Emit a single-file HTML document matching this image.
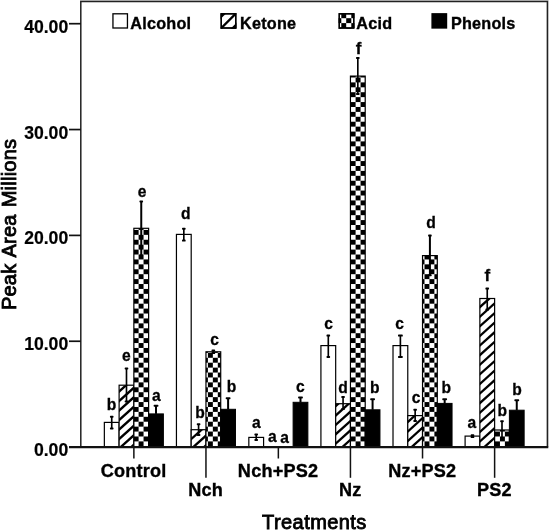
<!DOCTYPE html>
<html><head><meta charset="utf-8"><title>Chart</title>
<style>
html,body{margin:0;padding:0;background:#fff;}
body{width:550px;height:531px;position:relative;overflow:hidden;font-family:"Liberation Sans",sans-serif;}
svg{filter:grayscale(100%);}
svg text{font-family:"Liberation Sans",sans-serif;fill:#000;}
.t18{font-size:18.1px;font-weight:bold;stroke:#000;stroke-width:0.35px;letter-spacing:0.2px;}
.ty{font-size:17.6px;font-weight:bold;stroke:#000;stroke-width:0.2px;}
.t16{font-size:16.2px;font-weight:bold;stroke:#000;stroke-width:0.35px;letter-spacing:0.25px;}
.t17{font-size:17px;font-weight:bold;stroke:#000;stroke-width:0.3px;}
.ttl{font-size:20px;font-weight:normal;stroke:#000;stroke-width:0.85px;letter-spacing:0.25px;word-spacing:1.2px;}
</style></head><body>
<svg width="550" height="531" viewBox="0 0 550 531" style="position:absolute;left:0;top:0">
<defs>
</defs>
<rect x="0" y="0" width="550" height="531" fill="#fff"/>
<rect x="104.35" y="422.40" width="14.76" height="24.70" fill="#fff" stroke="#000" stroke-width="1.2"/>
<clipPath id="c1"><rect x="119.11" y="385.20" width="14.76" height="61.90"/></clipPath>
<rect x="119.11" y="385.20" width="14.76" height="61.90" fill="#fff"/>
<g clip-path="url(#c1)" stroke="#000" stroke-width="2.30">
<line x1="117.11" y1="374.30" x2="135.87" y2="357.42"/>
<line x1="117.11" y1="383.80" x2="135.87" y2="366.92"/>
<line x1="117.11" y1="393.30" x2="135.87" y2="376.42"/>
<line x1="117.11" y1="402.80" x2="135.87" y2="385.92"/>
<line x1="117.11" y1="412.30" x2="135.87" y2="395.42"/>
<line x1="117.11" y1="421.80" x2="135.87" y2="404.92"/>
<line x1="117.11" y1="431.30" x2="135.87" y2="414.42"/>
<line x1="117.11" y1="440.80" x2="135.87" y2="423.92"/>
<line x1="117.11" y1="450.30" x2="135.87" y2="433.42"/>
<line x1="117.11" y1="459.80" x2="135.87" y2="442.92"/>
</g>
<rect x="119.11" y="385.20" width="14.76" height="61.90" fill="none" stroke="#000" stroke-width="1.2"/>
<clipPath id="c2"><rect x="133.87" y="228.30" width="14.76" height="218.80"/></clipPath>
<rect x="133.87" y="228.30" width="14.76" height="218.80" fill="#fff"/>
<g clip-path="url(#c2)" fill="#000">
<rect x="133.65" y="220.09" width="4.95" height="4.92"/>
<rect x="143.55" y="220.09" width="4.95" height="4.92"/>
<rect x="153.45" y="220.09" width="4.95" height="4.92"/>
<rect x="128.70" y="225.01" width="4.95" height="4.92"/>
<rect x="138.60" y="225.01" width="4.95" height="4.92"/>
<rect x="148.50" y="225.01" width="4.95" height="4.92"/>
<rect x="133.65" y="229.93" width="4.95" height="4.92"/>
<rect x="143.55" y="229.93" width="4.95" height="4.92"/>
<rect x="153.45" y="229.93" width="4.95" height="4.92"/>
<rect x="128.70" y="234.84" width="4.95" height="4.92"/>
<rect x="138.60" y="234.84" width="4.95" height="4.92"/>
<rect x="148.50" y="234.84" width="4.95" height="4.92"/>
<rect x="133.65" y="239.76" width="4.95" height="4.92"/>
<rect x="143.55" y="239.76" width="4.95" height="4.92"/>
<rect x="153.45" y="239.76" width="4.95" height="4.92"/>
<rect x="128.70" y="244.68" width="4.95" height="4.92"/>
<rect x="138.60" y="244.68" width="4.95" height="4.92"/>
<rect x="148.50" y="244.68" width="4.95" height="4.92"/>
<rect x="133.65" y="249.60" width="4.95" height="4.92"/>
<rect x="143.55" y="249.60" width="4.95" height="4.92"/>
<rect x="153.45" y="249.60" width="4.95" height="4.92"/>
<rect x="128.70" y="254.52" width="4.95" height="4.92"/>
<rect x="138.60" y="254.52" width="4.95" height="4.92"/>
<rect x="148.50" y="254.52" width="4.95" height="4.92"/>
<rect x="133.65" y="259.43" width="4.95" height="4.92"/>
<rect x="143.55" y="259.43" width="4.95" height="4.92"/>
<rect x="153.45" y="259.43" width="4.95" height="4.92"/>
<rect x="128.70" y="264.35" width="4.95" height="4.92"/>
<rect x="138.60" y="264.35" width="4.95" height="4.92"/>
<rect x="148.50" y="264.35" width="4.95" height="4.92"/>
<rect x="133.65" y="269.27" width="4.95" height="4.92"/>
<rect x="143.55" y="269.27" width="4.95" height="4.92"/>
<rect x="153.45" y="269.27" width="4.95" height="4.92"/>
<rect x="128.70" y="274.19" width="4.95" height="4.92"/>
<rect x="138.60" y="274.19" width="4.95" height="4.92"/>
<rect x="148.50" y="274.19" width="4.95" height="4.92"/>
<rect x="133.65" y="279.11" width="4.95" height="4.92"/>
<rect x="143.55" y="279.11" width="4.95" height="4.92"/>
<rect x="153.45" y="279.11" width="4.95" height="4.92"/>
<rect x="128.70" y="284.02" width="4.95" height="4.92"/>
<rect x="138.60" y="284.02" width="4.95" height="4.92"/>
<rect x="148.50" y="284.02" width="4.95" height="4.92"/>
<rect x="133.65" y="288.94" width="4.95" height="4.92"/>
<rect x="143.55" y="288.94" width="4.95" height="4.92"/>
<rect x="153.45" y="288.94" width="4.95" height="4.92"/>
<rect x="128.70" y="293.86" width="4.95" height="4.92"/>
<rect x="138.60" y="293.86" width="4.95" height="4.92"/>
<rect x="148.50" y="293.86" width="4.95" height="4.92"/>
<rect x="133.65" y="298.78" width="4.95" height="4.92"/>
<rect x="143.55" y="298.78" width="4.95" height="4.92"/>
<rect x="153.45" y="298.78" width="4.95" height="4.92"/>
<rect x="128.70" y="303.70" width="4.95" height="4.92"/>
<rect x="138.60" y="303.70" width="4.95" height="4.92"/>
<rect x="148.50" y="303.70" width="4.95" height="4.92"/>
<rect x="133.65" y="308.61" width="4.95" height="4.92"/>
<rect x="143.55" y="308.61" width="4.95" height="4.92"/>
<rect x="153.45" y="308.61" width="4.95" height="4.92"/>
<rect x="128.70" y="313.53" width="4.95" height="4.92"/>
<rect x="138.60" y="313.53" width="4.95" height="4.92"/>
<rect x="148.50" y="313.53" width="4.95" height="4.92"/>
<rect x="133.65" y="318.45" width="4.95" height="4.92"/>
<rect x="143.55" y="318.45" width="4.95" height="4.92"/>
<rect x="153.45" y="318.45" width="4.95" height="4.92"/>
<rect x="128.70" y="323.37" width="4.95" height="4.92"/>
<rect x="138.60" y="323.37" width="4.95" height="4.92"/>
<rect x="148.50" y="323.37" width="4.95" height="4.92"/>
<rect x="133.65" y="328.29" width="4.95" height="4.92"/>
<rect x="143.55" y="328.29" width="4.95" height="4.92"/>
<rect x="153.45" y="328.29" width="4.95" height="4.92"/>
<rect x="128.70" y="333.20" width="4.95" height="4.92"/>
<rect x="138.60" y="333.20" width="4.95" height="4.92"/>
<rect x="148.50" y="333.20" width="4.95" height="4.92"/>
<rect x="133.65" y="338.12" width="4.95" height="4.92"/>
<rect x="143.55" y="338.12" width="4.95" height="4.92"/>
<rect x="153.45" y="338.12" width="4.95" height="4.92"/>
<rect x="128.70" y="343.04" width="4.95" height="4.92"/>
<rect x="138.60" y="343.04" width="4.95" height="4.92"/>
<rect x="148.50" y="343.04" width="4.95" height="4.92"/>
<rect x="133.65" y="347.96" width="4.95" height="4.92"/>
<rect x="143.55" y="347.96" width="4.95" height="4.92"/>
<rect x="153.45" y="347.96" width="4.95" height="4.92"/>
<rect x="128.70" y="352.88" width="4.95" height="4.92"/>
<rect x="138.60" y="352.88" width="4.95" height="4.92"/>
<rect x="148.50" y="352.88" width="4.95" height="4.92"/>
<rect x="133.65" y="357.79" width="4.95" height="4.92"/>
<rect x="143.55" y="357.79" width="4.95" height="4.92"/>
<rect x="153.45" y="357.79" width="4.95" height="4.92"/>
<rect x="128.70" y="362.71" width="4.95" height="4.92"/>
<rect x="138.60" y="362.71" width="4.95" height="4.92"/>
<rect x="148.50" y="362.71" width="4.95" height="4.92"/>
<rect x="133.65" y="367.63" width="4.95" height="4.92"/>
<rect x="143.55" y="367.63" width="4.95" height="4.92"/>
<rect x="153.45" y="367.63" width="4.95" height="4.92"/>
<rect x="128.70" y="372.55" width="4.95" height="4.92"/>
<rect x="138.60" y="372.55" width="4.95" height="4.92"/>
<rect x="148.50" y="372.55" width="4.95" height="4.92"/>
<rect x="133.65" y="377.47" width="4.95" height="4.92"/>
<rect x="143.55" y="377.47" width="4.95" height="4.92"/>
<rect x="153.45" y="377.47" width="4.95" height="4.92"/>
<rect x="128.70" y="382.38" width="4.95" height="4.92"/>
<rect x="138.60" y="382.38" width="4.95" height="4.92"/>
<rect x="148.50" y="382.38" width="4.95" height="4.92"/>
<rect x="133.65" y="387.30" width="4.95" height="4.92"/>
<rect x="143.55" y="387.30" width="4.95" height="4.92"/>
<rect x="153.45" y="387.30" width="4.95" height="4.92"/>
<rect x="128.70" y="392.22" width="4.95" height="4.92"/>
<rect x="138.60" y="392.22" width="4.95" height="4.92"/>
<rect x="148.50" y="392.22" width="4.95" height="4.92"/>
<rect x="133.65" y="397.14" width="4.95" height="4.92"/>
<rect x="143.55" y="397.14" width="4.95" height="4.92"/>
<rect x="153.45" y="397.14" width="4.95" height="4.92"/>
<rect x="128.70" y="402.06" width="4.95" height="4.92"/>
<rect x="138.60" y="402.06" width="4.95" height="4.92"/>
<rect x="148.50" y="402.06" width="4.95" height="4.92"/>
<rect x="133.65" y="406.97" width="4.95" height="4.92"/>
<rect x="143.55" y="406.97" width="4.95" height="4.92"/>
<rect x="153.45" y="406.97" width="4.95" height="4.92"/>
<rect x="128.70" y="411.89" width="4.95" height="4.92"/>
<rect x="138.60" y="411.89" width="4.95" height="4.92"/>
<rect x="148.50" y="411.89" width="4.95" height="4.92"/>
<rect x="133.65" y="416.81" width="4.95" height="4.92"/>
<rect x="143.55" y="416.81" width="4.95" height="4.92"/>
<rect x="153.45" y="416.81" width="4.95" height="4.92"/>
<rect x="128.70" y="421.73" width="4.95" height="4.92"/>
<rect x="138.60" y="421.73" width="4.95" height="4.92"/>
<rect x="148.50" y="421.73" width="4.95" height="4.92"/>
<rect x="133.65" y="426.65" width="4.95" height="4.92"/>
<rect x="143.55" y="426.65" width="4.95" height="4.92"/>
<rect x="153.45" y="426.65" width="4.95" height="4.92"/>
<rect x="128.70" y="431.56" width="4.95" height="4.92"/>
<rect x="138.60" y="431.56" width="4.95" height="4.92"/>
<rect x="148.50" y="431.56" width="4.95" height="4.92"/>
<rect x="133.65" y="436.48" width="4.95" height="4.92"/>
<rect x="143.55" y="436.48" width="4.95" height="4.92"/>
<rect x="153.45" y="436.48" width="4.95" height="4.92"/>
<rect x="128.70" y="441.40" width="4.95" height="4.92"/>
<rect x="138.60" y="441.40" width="4.95" height="4.92"/>
<rect x="148.50" y="441.40" width="4.95" height="4.92"/>
<rect x="133.65" y="446.32" width="4.95" height="4.92"/>
<rect x="143.55" y="446.32" width="4.95" height="4.92"/>
<rect x="153.45" y="446.32" width="4.95" height="4.92"/>
<rect x="128.70" y="451.24" width="4.95" height="4.92"/>
<rect x="138.60" y="451.24" width="4.95" height="4.92"/>
<rect x="148.50" y="451.24" width="4.95" height="4.92"/>
</g>
<rect x="133.87" y="228.30" width="14.76" height="218.80" fill="none" stroke="#000" stroke-width="1.2"/>
<rect x="148.63" y="413.90" width="14.76" height="33.20" fill="#000" stroke="#000" stroke-width="1"/>
<rect x="176.44" y="234.40" width="14.76" height="212.70" fill="#fff" stroke="#000" stroke-width="1.2"/>
<clipPath id="c3"><rect x="191.20" y="429.70" width="14.76" height="17.40"/></clipPath>
<rect x="191.20" y="429.70" width="14.76" height="17.40" fill="#fff"/>
<g clip-path="url(#c3)" stroke="#000" stroke-width="2.30">
<line x1="189.20" y1="421.30" x2="207.96" y2="404.42"/>
<line x1="189.20" y1="431.10" x2="207.96" y2="414.22"/>
<line x1="189.20" y1="440.90" x2="207.96" y2="424.02"/>
<line x1="189.20" y1="450.70" x2="207.96" y2="433.82"/>
<line x1="189.20" y1="460.50" x2="207.96" y2="443.62"/>
</g>
<rect x="191.20" y="429.70" width="14.76" height="17.40" fill="none" stroke="#000" stroke-width="1.2"/>
<clipPath id="c4"><rect x="205.96" y="351.80" width="14.76" height="95.30"/></clipPath>
<rect x="205.96" y="351.80" width="14.76" height="95.30" fill="#fff"/>
<g clip-path="url(#c4)" fill="#000">
<rect x="198.00" y="343.04" width="4.95" height="4.92"/>
<rect x="207.90" y="343.04" width="4.95" height="4.92"/>
<rect x="217.80" y="343.04" width="4.95" height="4.92"/>
<rect x="202.95" y="347.96" width="4.95" height="4.92"/>
<rect x="212.85" y="347.96" width="4.95" height="4.92"/>
<rect x="222.75" y="347.96" width="4.95" height="4.92"/>
<rect x="198.00" y="352.88" width="4.95" height="4.92"/>
<rect x="207.90" y="352.88" width="4.95" height="4.92"/>
<rect x="217.80" y="352.88" width="4.95" height="4.92"/>
<rect x="202.95" y="357.79" width="4.95" height="4.92"/>
<rect x="212.85" y="357.79" width="4.95" height="4.92"/>
<rect x="222.75" y="357.79" width="4.95" height="4.92"/>
<rect x="198.00" y="362.71" width="4.95" height="4.92"/>
<rect x="207.90" y="362.71" width="4.95" height="4.92"/>
<rect x="217.80" y="362.71" width="4.95" height="4.92"/>
<rect x="202.95" y="367.63" width="4.95" height="4.92"/>
<rect x="212.85" y="367.63" width="4.95" height="4.92"/>
<rect x="222.75" y="367.63" width="4.95" height="4.92"/>
<rect x="198.00" y="372.55" width="4.95" height="4.92"/>
<rect x="207.90" y="372.55" width="4.95" height="4.92"/>
<rect x="217.80" y="372.55" width="4.95" height="4.92"/>
<rect x="202.95" y="377.47" width="4.95" height="4.92"/>
<rect x="212.85" y="377.47" width="4.95" height="4.92"/>
<rect x="222.75" y="377.47" width="4.95" height="4.92"/>
<rect x="198.00" y="382.38" width="4.95" height="4.92"/>
<rect x="207.90" y="382.38" width="4.95" height="4.92"/>
<rect x="217.80" y="382.38" width="4.95" height="4.92"/>
<rect x="202.95" y="387.30" width="4.95" height="4.92"/>
<rect x="212.85" y="387.30" width="4.95" height="4.92"/>
<rect x="222.75" y="387.30" width="4.95" height="4.92"/>
<rect x="198.00" y="392.22" width="4.95" height="4.92"/>
<rect x="207.90" y="392.22" width="4.95" height="4.92"/>
<rect x="217.80" y="392.22" width="4.95" height="4.92"/>
<rect x="202.95" y="397.14" width="4.95" height="4.92"/>
<rect x="212.85" y="397.14" width="4.95" height="4.92"/>
<rect x="222.75" y="397.14" width="4.95" height="4.92"/>
<rect x="198.00" y="402.06" width="4.95" height="4.92"/>
<rect x="207.90" y="402.06" width="4.95" height="4.92"/>
<rect x="217.80" y="402.06" width="4.95" height="4.92"/>
<rect x="202.95" y="406.97" width="4.95" height="4.92"/>
<rect x="212.85" y="406.97" width="4.95" height="4.92"/>
<rect x="222.75" y="406.97" width="4.95" height="4.92"/>
<rect x="198.00" y="411.89" width="4.95" height="4.92"/>
<rect x="207.90" y="411.89" width="4.95" height="4.92"/>
<rect x="217.80" y="411.89" width="4.95" height="4.92"/>
<rect x="202.95" y="416.81" width="4.95" height="4.92"/>
<rect x="212.85" y="416.81" width="4.95" height="4.92"/>
<rect x="222.75" y="416.81" width="4.95" height="4.92"/>
<rect x="198.00" y="421.73" width="4.95" height="4.92"/>
<rect x="207.90" y="421.73" width="4.95" height="4.92"/>
<rect x="217.80" y="421.73" width="4.95" height="4.92"/>
<rect x="202.95" y="426.65" width="4.95" height="4.92"/>
<rect x="212.85" y="426.65" width="4.95" height="4.92"/>
<rect x="222.75" y="426.65" width="4.95" height="4.92"/>
<rect x="198.00" y="431.56" width="4.95" height="4.92"/>
<rect x="207.90" y="431.56" width="4.95" height="4.92"/>
<rect x="217.80" y="431.56" width="4.95" height="4.92"/>
<rect x="202.95" y="436.48" width="4.95" height="4.92"/>
<rect x="212.85" y="436.48" width="4.95" height="4.92"/>
<rect x="222.75" y="436.48" width="4.95" height="4.92"/>
<rect x="198.00" y="441.40" width="4.95" height="4.92"/>
<rect x="207.90" y="441.40" width="4.95" height="4.92"/>
<rect x="217.80" y="441.40" width="4.95" height="4.92"/>
<rect x="202.95" y="446.32" width="4.95" height="4.92"/>
<rect x="212.85" y="446.32" width="4.95" height="4.92"/>
<rect x="222.75" y="446.32" width="4.95" height="4.92"/>
<rect x="198.00" y="451.24" width="4.95" height="4.92"/>
<rect x="207.90" y="451.24" width="4.95" height="4.92"/>
<rect x="217.80" y="451.24" width="4.95" height="4.92"/>
</g>
<rect x="205.96" y="351.80" width="14.76" height="95.30" fill="none" stroke="#000" stroke-width="1.2"/>
<rect x="220.72" y="409.30" width="14.76" height="37.80" fill="#000" stroke="#000" stroke-width="1"/>
<rect x="248.83" y="437.40" width="14.76" height="9.70" fill="#fff" stroke="#000" stroke-width="1.2"/>
<rect x="293.11" y="402.30" width="14.76" height="44.80" fill="#000" stroke="#000" stroke-width="1"/>
<rect x="320.92" y="345.60" width="14.76" height="101.50" fill="#fff" stroke="#000" stroke-width="1.2"/>
<clipPath id="c5"><rect x="335.68" y="403.70" width="14.76" height="43.40"/></clipPath>
<rect x="335.68" y="403.70" width="14.76" height="43.40" fill="#fff"/>
<g clip-path="url(#c5)" stroke="#000" stroke-width="2.30">
<line x1="333.68" y1="398.50" x2="352.44" y2="381.62"/>
<line x1="333.68" y1="407.90" x2="352.44" y2="391.02"/>
<line x1="333.68" y1="417.30" x2="352.44" y2="400.42"/>
<line x1="333.68" y1="426.70" x2="352.44" y2="409.82"/>
<line x1="333.68" y1="436.10" x2="352.44" y2="419.22"/>
<line x1="333.68" y1="445.50" x2="352.44" y2="428.62"/>
<line x1="333.68" y1="454.90" x2="352.44" y2="438.02"/>
<line x1="333.68" y1="464.30" x2="352.44" y2="447.42"/>
</g>
<rect x="335.68" y="403.70" width="14.76" height="43.40" fill="none" stroke="#000" stroke-width="1.2"/>
<clipPath id="c6"><rect x="350.44" y="76.10" width="14.76" height="371.00"/></clipPath>
<rect x="350.44" y="76.10" width="14.76" height="371.00" fill="#fff"/>
<g clip-path="url(#c6)" fill="#000">
<rect x="345.70" y="67.63" width="4.95" height="4.92"/>
<rect x="355.60" y="67.63" width="4.95" height="4.92"/>
<rect x="365.50" y="67.63" width="4.95" height="4.92"/>
<rect x="340.75" y="72.55" width="4.95" height="4.92"/>
<rect x="350.65" y="72.55" width="4.95" height="4.92"/>
<rect x="360.55" y="72.55" width="4.95" height="4.92"/>
<rect x="345.70" y="77.47" width="4.95" height="4.92"/>
<rect x="355.60" y="77.47" width="4.95" height="4.92"/>
<rect x="365.50" y="77.47" width="4.95" height="4.92"/>
<rect x="340.75" y="82.39" width="4.95" height="4.92"/>
<rect x="350.65" y="82.39" width="4.95" height="4.92"/>
<rect x="360.55" y="82.39" width="4.95" height="4.92"/>
<rect x="345.70" y="87.30" width="4.95" height="4.92"/>
<rect x="355.60" y="87.30" width="4.95" height="4.92"/>
<rect x="365.50" y="87.30" width="4.95" height="4.92"/>
<rect x="340.75" y="92.22" width="4.95" height="4.92"/>
<rect x="350.65" y="92.22" width="4.95" height="4.92"/>
<rect x="360.55" y="92.22" width="4.95" height="4.92"/>
<rect x="345.70" y="97.14" width="4.95" height="4.92"/>
<rect x="355.60" y="97.14" width="4.95" height="4.92"/>
<rect x="365.50" y="97.14" width="4.95" height="4.92"/>
<rect x="340.75" y="102.06" width="4.95" height="4.92"/>
<rect x="350.65" y="102.06" width="4.95" height="4.92"/>
<rect x="360.55" y="102.06" width="4.95" height="4.92"/>
<rect x="345.70" y="106.98" width="4.95" height="4.92"/>
<rect x="355.60" y="106.98" width="4.95" height="4.92"/>
<rect x="365.50" y="106.98" width="4.95" height="4.92"/>
<rect x="340.75" y="111.89" width="4.95" height="4.92"/>
<rect x="350.65" y="111.89" width="4.95" height="4.92"/>
<rect x="360.55" y="111.89" width="4.95" height="4.92"/>
<rect x="345.70" y="116.81" width="4.95" height="4.92"/>
<rect x="355.60" y="116.81" width="4.95" height="4.92"/>
<rect x="365.50" y="116.81" width="4.95" height="4.92"/>
<rect x="340.75" y="121.73" width="4.95" height="4.92"/>
<rect x="350.65" y="121.73" width="4.95" height="4.92"/>
<rect x="360.55" y="121.73" width="4.95" height="4.92"/>
<rect x="345.70" y="126.65" width="4.95" height="4.92"/>
<rect x="355.60" y="126.65" width="4.95" height="4.92"/>
<rect x="365.50" y="126.65" width="4.95" height="4.92"/>
<rect x="340.75" y="131.57" width="4.95" height="4.92"/>
<rect x="350.65" y="131.57" width="4.95" height="4.92"/>
<rect x="360.55" y="131.57" width="4.95" height="4.92"/>
<rect x="345.70" y="136.48" width="4.95" height="4.92"/>
<rect x="355.60" y="136.48" width="4.95" height="4.92"/>
<rect x="365.50" y="136.48" width="4.95" height="4.92"/>
<rect x="340.75" y="141.40" width="4.95" height="4.92"/>
<rect x="350.65" y="141.40" width="4.95" height="4.92"/>
<rect x="360.55" y="141.40" width="4.95" height="4.92"/>
<rect x="345.70" y="146.32" width="4.95" height="4.92"/>
<rect x="355.60" y="146.32" width="4.95" height="4.92"/>
<rect x="365.50" y="146.32" width="4.95" height="4.92"/>
<rect x="340.75" y="151.24" width="4.95" height="4.92"/>
<rect x="350.65" y="151.24" width="4.95" height="4.92"/>
<rect x="360.55" y="151.24" width="4.95" height="4.92"/>
<rect x="345.70" y="156.16" width="4.95" height="4.92"/>
<rect x="355.60" y="156.16" width="4.95" height="4.92"/>
<rect x="365.50" y="156.16" width="4.95" height="4.92"/>
<rect x="340.75" y="161.07" width="4.95" height="4.92"/>
<rect x="350.65" y="161.07" width="4.95" height="4.92"/>
<rect x="360.55" y="161.07" width="4.95" height="4.92"/>
<rect x="345.70" y="165.99" width="4.95" height="4.92"/>
<rect x="355.60" y="165.99" width="4.95" height="4.92"/>
<rect x="365.50" y="165.99" width="4.95" height="4.92"/>
<rect x="340.75" y="170.91" width="4.95" height="4.92"/>
<rect x="350.65" y="170.91" width="4.95" height="4.92"/>
<rect x="360.55" y="170.91" width="4.95" height="4.92"/>
<rect x="345.70" y="175.83" width="4.95" height="4.92"/>
<rect x="355.60" y="175.83" width="4.95" height="4.92"/>
<rect x="365.50" y="175.83" width="4.95" height="4.92"/>
<rect x="340.75" y="180.75" width="4.95" height="4.92"/>
<rect x="350.65" y="180.75" width="4.95" height="4.92"/>
<rect x="360.55" y="180.75" width="4.95" height="4.92"/>
<rect x="345.70" y="185.66" width="4.95" height="4.92"/>
<rect x="355.60" y="185.66" width="4.95" height="4.92"/>
<rect x="365.50" y="185.66" width="4.95" height="4.92"/>
<rect x="340.75" y="190.58" width="4.95" height="4.92"/>
<rect x="350.65" y="190.58" width="4.95" height="4.92"/>
<rect x="360.55" y="190.58" width="4.95" height="4.92"/>
<rect x="345.70" y="195.50" width="4.95" height="4.92"/>
<rect x="355.60" y="195.50" width="4.95" height="4.92"/>
<rect x="365.50" y="195.50" width="4.95" height="4.92"/>
<rect x="340.75" y="200.42" width="4.95" height="4.92"/>
<rect x="350.65" y="200.42" width="4.95" height="4.92"/>
<rect x="360.55" y="200.42" width="4.95" height="4.92"/>
<rect x="345.70" y="205.34" width="4.95" height="4.92"/>
<rect x="355.60" y="205.34" width="4.95" height="4.92"/>
<rect x="365.50" y="205.34" width="4.95" height="4.92"/>
<rect x="340.75" y="210.25" width="4.95" height="4.92"/>
<rect x="350.65" y="210.25" width="4.95" height="4.92"/>
<rect x="360.55" y="210.25" width="4.95" height="4.92"/>
<rect x="345.70" y="215.17" width="4.95" height="4.92"/>
<rect x="355.60" y="215.17" width="4.95" height="4.92"/>
<rect x="365.50" y="215.17" width="4.95" height="4.92"/>
<rect x="340.75" y="220.09" width="4.95" height="4.92"/>
<rect x="350.65" y="220.09" width="4.95" height="4.92"/>
<rect x="360.55" y="220.09" width="4.95" height="4.92"/>
<rect x="345.70" y="225.01" width="4.95" height="4.92"/>
<rect x="355.60" y="225.01" width="4.95" height="4.92"/>
<rect x="365.50" y="225.01" width="4.95" height="4.92"/>
<rect x="340.75" y="229.93" width="4.95" height="4.92"/>
<rect x="350.65" y="229.93" width="4.95" height="4.92"/>
<rect x="360.55" y="229.93" width="4.95" height="4.92"/>
<rect x="345.70" y="234.84" width="4.95" height="4.92"/>
<rect x="355.60" y="234.84" width="4.95" height="4.92"/>
<rect x="365.50" y="234.84" width="4.95" height="4.92"/>
<rect x="340.75" y="239.76" width="4.95" height="4.92"/>
<rect x="350.65" y="239.76" width="4.95" height="4.92"/>
<rect x="360.55" y="239.76" width="4.95" height="4.92"/>
<rect x="345.70" y="244.68" width="4.95" height="4.92"/>
<rect x="355.60" y="244.68" width="4.95" height="4.92"/>
<rect x="365.50" y="244.68" width="4.95" height="4.92"/>
<rect x="340.75" y="249.60" width="4.95" height="4.92"/>
<rect x="350.65" y="249.60" width="4.95" height="4.92"/>
<rect x="360.55" y="249.60" width="4.95" height="4.92"/>
<rect x="345.70" y="254.52" width="4.95" height="4.92"/>
<rect x="355.60" y="254.52" width="4.95" height="4.92"/>
<rect x="365.50" y="254.52" width="4.95" height="4.92"/>
<rect x="340.75" y="259.43" width="4.95" height="4.92"/>
<rect x="350.65" y="259.43" width="4.95" height="4.92"/>
<rect x="360.55" y="259.43" width="4.95" height="4.92"/>
<rect x="345.70" y="264.35" width="4.95" height="4.92"/>
<rect x="355.60" y="264.35" width="4.95" height="4.92"/>
<rect x="365.50" y="264.35" width="4.95" height="4.92"/>
<rect x="340.75" y="269.27" width="4.95" height="4.92"/>
<rect x="350.65" y="269.27" width="4.95" height="4.92"/>
<rect x="360.55" y="269.27" width="4.95" height="4.92"/>
<rect x="345.70" y="274.19" width="4.95" height="4.92"/>
<rect x="355.60" y="274.19" width="4.95" height="4.92"/>
<rect x="365.50" y="274.19" width="4.95" height="4.92"/>
<rect x="340.75" y="279.11" width="4.95" height="4.92"/>
<rect x="350.65" y="279.11" width="4.95" height="4.92"/>
<rect x="360.55" y="279.11" width="4.95" height="4.92"/>
<rect x="345.70" y="284.02" width="4.95" height="4.92"/>
<rect x="355.60" y="284.02" width="4.95" height="4.92"/>
<rect x="365.50" y="284.02" width="4.95" height="4.92"/>
<rect x="340.75" y="288.94" width="4.95" height="4.92"/>
<rect x="350.65" y="288.94" width="4.95" height="4.92"/>
<rect x="360.55" y="288.94" width="4.95" height="4.92"/>
<rect x="345.70" y="293.86" width="4.95" height="4.92"/>
<rect x="355.60" y="293.86" width="4.95" height="4.92"/>
<rect x="365.50" y="293.86" width="4.95" height="4.92"/>
<rect x="340.75" y="298.78" width="4.95" height="4.92"/>
<rect x="350.65" y="298.78" width="4.95" height="4.92"/>
<rect x="360.55" y="298.78" width="4.95" height="4.92"/>
<rect x="345.70" y="303.70" width="4.95" height="4.92"/>
<rect x="355.60" y="303.70" width="4.95" height="4.92"/>
<rect x="365.50" y="303.70" width="4.95" height="4.92"/>
<rect x="340.75" y="308.61" width="4.95" height="4.92"/>
<rect x="350.65" y="308.61" width="4.95" height="4.92"/>
<rect x="360.55" y="308.61" width="4.95" height="4.92"/>
<rect x="345.70" y="313.53" width="4.95" height="4.92"/>
<rect x="355.60" y="313.53" width="4.95" height="4.92"/>
<rect x="365.50" y="313.53" width="4.95" height="4.92"/>
<rect x="340.75" y="318.45" width="4.95" height="4.92"/>
<rect x="350.65" y="318.45" width="4.95" height="4.92"/>
<rect x="360.55" y="318.45" width="4.95" height="4.92"/>
<rect x="345.70" y="323.37" width="4.95" height="4.92"/>
<rect x="355.60" y="323.37" width="4.95" height="4.92"/>
<rect x="365.50" y="323.37" width="4.95" height="4.92"/>
<rect x="340.75" y="328.29" width="4.95" height="4.92"/>
<rect x="350.65" y="328.29" width="4.95" height="4.92"/>
<rect x="360.55" y="328.29" width="4.95" height="4.92"/>
<rect x="345.70" y="333.20" width="4.95" height="4.92"/>
<rect x="355.60" y="333.20" width="4.95" height="4.92"/>
<rect x="365.50" y="333.20" width="4.95" height="4.92"/>
<rect x="340.75" y="338.12" width="4.95" height="4.92"/>
<rect x="350.65" y="338.12" width="4.95" height="4.92"/>
<rect x="360.55" y="338.12" width="4.95" height="4.92"/>
<rect x="345.70" y="343.04" width="4.95" height="4.92"/>
<rect x="355.60" y="343.04" width="4.95" height="4.92"/>
<rect x="365.50" y="343.04" width="4.95" height="4.92"/>
<rect x="340.75" y="347.96" width="4.95" height="4.92"/>
<rect x="350.65" y="347.96" width="4.95" height="4.92"/>
<rect x="360.55" y="347.96" width="4.95" height="4.92"/>
<rect x="345.70" y="352.88" width="4.95" height="4.92"/>
<rect x="355.60" y="352.88" width="4.95" height="4.92"/>
<rect x="365.50" y="352.88" width="4.95" height="4.92"/>
<rect x="340.75" y="357.79" width="4.95" height="4.92"/>
<rect x="350.65" y="357.79" width="4.95" height="4.92"/>
<rect x="360.55" y="357.79" width="4.95" height="4.92"/>
<rect x="345.70" y="362.71" width="4.95" height="4.92"/>
<rect x="355.60" y="362.71" width="4.95" height="4.92"/>
<rect x="365.50" y="362.71" width="4.95" height="4.92"/>
<rect x="340.75" y="367.63" width="4.95" height="4.92"/>
<rect x="350.65" y="367.63" width="4.95" height="4.92"/>
<rect x="360.55" y="367.63" width="4.95" height="4.92"/>
<rect x="345.70" y="372.55" width="4.95" height="4.92"/>
<rect x="355.60" y="372.55" width="4.95" height="4.92"/>
<rect x="365.50" y="372.55" width="4.95" height="4.92"/>
<rect x="340.75" y="377.47" width="4.95" height="4.92"/>
<rect x="350.65" y="377.47" width="4.95" height="4.92"/>
<rect x="360.55" y="377.47" width="4.95" height="4.92"/>
<rect x="345.70" y="382.38" width="4.95" height="4.92"/>
<rect x="355.60" y="382.38" width="4.95" height="4.92"/>
<rect x="365.50" y="382.38" width="4.95" height="4.92"/>
<rect x="340.75" y="387.30" width="4.95" height="4.92"/>
<rect x="350.65" y="387.30" width="4.95" height="4.92"/>
<rect x="360.55" y="387.30" width="4.95" height="4.92"/>
<rect x="345.70" y="392.22" width="4.95" height="4.92"/>
<rect x="355.60" y="392.22" width="4.95" height="4.92"/>
<rect x="365.50" y="392.22" width="4.95" height="4.92"/>
<rect x="340.75" y="397.14" width="4.95" height="4.92"/>
<rect x="350.65" y="397.14" width="4.95" height="4.92"/>
<rect x="360.55" y="397.14" width="4.95" height="4.92"/>
<rect x="345.70" y="402.06" width="4.95" height="4.92"/>
<rect x="355.60" y="402.06" width="4.95" height="4.92"/>
<rect x="365.50" y="402.06" width="4.95" height="4.92"/>
<rect x="340.75" y="406.97" width="4.95" height="4.92"/>
<rect x="350.65" y="406.97" width="4.95" height="4.92"/>
<rect x="360.55" y="406.97" width="4.95" height="4.92"/>
<rect x="345.70" y="411.89" width="4.95" height="4.92"/>
<rect x="355.60" y="411.89" width="4.95" height="4.92"/>
<rect x="365.50" y="411.89" width="4.95" height="4.92"/>
<rect x="340.75" y="416.81" width="4.95" height="4.92"/>
<rect x="350.65" y="416.81" width="4.95" height="4.92"/>
<rect x="360.55" y="416.81" width="4.95" height="4.92"/>
<rect x="345.70" y="421.73" width="4.95" height="4.92"/>
<rect x="355.60" y="421.73" width="4.95" height="4.92"/>
<rect x="365.50" y="421.73" width="4.95" height="4.92"/>
<rect x="340.75" y="426.65" width="4.95" height="4.92"/>
<rect x="350.65" y="426.65" width="4.95" height="4.92"/>
<rect x="360.55" y="426.65" width="4.95" height="4.92"/>
<rect x="345.70" y="431.56" width="4.95" height="4.92"/>
<rect x="355.60" y="431.56" width="4.95" height="4.92"/>
<rect x="365.50" y="431.56" width="4.95" height="4.92"/>
<rect x="340.75" y="436.48" width="4.95" height="4.92"/>
<rect x="350.65" y="436.48" width="4.95" height="4.92"/>
<rect x="360.55" y="436.48" width="4.95" height="4.92"/>
<rect x="345.70" y="441.40" width="4.95" height="4.92"/>
<rect x="355.60" y="441.40" width="4.95" height="4.92"/>
<rect x="365.50" y="441.40" width="4.95" height="4.92"/>
<rect x="340.75" y="446.32" width="4.95" height="4.92"/>
<rect x="350.65" y="446.32" width="4.95" height="4.92"/>
<rect x="360.55" y="446.32" width="4.95" height="4.92"/>
<rect x="345.70" y="451.24" width="4.95" height="4.92"/>
<rect x="355.60" y="451.24" width="4.95" height="4.92"/>
<rect x="365.50" y="451.24" width="4.95" height="4.92"/>
</g>
<rect x="350.44" y="76.10" width="14.76" height="371.00" fill="none" stroke="#000" stroke-width="1.2"/>
<rect x="365.20" y="409.80" width="14.76" height="37.30" fill="#000" stroke="#000" stroke-width="1"/>
<rect x="393.01" y="345.60" width="14.76" height="101.50" fill="#fff" stroke="#000" stroke-width="1.2"/>
<clipPath id="c7"><rect x="407.77" y="415.60" width="14.76" height="31.50"/></clipPath>
<rect x="407.77" y="415.60" width="14.76" height="31.50" fill="#fff"/>
<g clip-path="url(#c7)" stroke="#000" stroke-width="2.30">
<line x1="405.77" y1="404.80" x2="424.53" y2="387.92"/>
<line x1="405.77" y1="414.30" x2="424.53" y2="397.42"/>
<line x1="405.77" y1="423.80" x2="424.53" y2="406.92"/>
<line x1="405.77" y1="433.30" x2="424.53" y2="416.42"/>
<line x1="405.77" y1="442.80" x2="424.53" y2="425.92"/>
<line x1="405.77" y1="452.30" x2="424.53" y2="435.42"/>
<line x1="405.77" y1="461.80" x2="424.53" y2="444.92"/>
</g>
<rect x="407.77" y="415.60" width="14.76" height="31.50" fill="none" stroke="#000" stroke-width="1.2"/>
<clipPath id="c8"><rect x="422.53" y="255.60" width="14.76" height="191.50"/></clipPath>
<rect x="422.53" y="255.60" width="14.76" height="191.50" fill="#fff"/>
<g clip-path="url(#c8)" fill="#000">
<rect x="419.55" y="249.60" width="4.95" height="4.92"/>
<rect x="429.45" y="249.60" width="4.95" height="4.92"/>
<rect x="439.35" y="249.60" width="4.95" height="4.92"/>
<rect x="414.60" y="254.52" width="4.95" height="4.92"/>
<rect x="424.50" y="254.52" width="4.95" height="4.92"/>
<rect x="434.40" y="254.52" width="4.95" height="4.92"/>
<rect x="419.55" y="259.43" width="4.95" height="4.92"/>
<rect x="429.45" y="259.43" width="4.95" height="4.92"/>
<rect x="439.35" y="259.43" width="4.95" height="4.92"/>
<rect x="414.60" y="264.35" width="4.95" height="4.92"/>
<rect x="424.50" y="264.35" width="4.95" height="4.92"/>
<rect x="434.40" y="264.35" width="4.95" height="4.92"/>
<rect x="419.55" y="269.27" width="4.95" height="4.92"/>
<rect x="429.45" y="269.27" width="4.95" height="4.92"/>
<rect x="439.35" y="269.27" width="4.95" height="4.92"/>
<rect x="414.60" y="274.19" width="4.95" height="4.92"/>
<rect x="424.50" y="274.19" width="4.95" height="4.92"/>
<rect x="434.40" y="274.19" width="4.95" height="4.92"/>
<rect x="419.55" y="279.11" width="4.95" height="4.92"/>
<rect x="429.45" y="279.11" width="4.95" height="4.92"/>
<rect x="439.35" y="279.11" width="4.95" height="4.92"/>
<rect x="414.60" y="284.02" width="4.95" height="4.92"/>
<rect x="424.50" y="284.02" width="4.95" height="4.92"/>
<rect x="434.40" y="284.02" width="4.95" height="4.92"/>
<rect x="419.55" y="288.94" width="4.95" height="4.92"/>
<rect x="429.45" y="288.94" width="4.95" height="4.92"/>
<rect x="439.35" y="288.94" width="4.95" height="4.92"/>
<rect x="414.60" y="293.86" width="4.95" height="4.92"/>
<rect x="424.50" y="293.86" width="4.95" height="4.92"/>
<rect x="434.40" y="293.86" width="4.95" height="4.92"/>
<rect x="419.55" y="298.78" width="4.95" height="4.92"/>
<rect x="429.45" y="298.78" width="4.95" height="4.92"/>
<rect x="439.35" y="298.78" width="4.95" height="4.92"/>
<rect x="414.60" y="303.70" width="4.95" height="4.92"/>
<rect x="424.50" y="303.70" width="4.95" height="4.92"/>
<rect x="434.40" y="303.70" width="4.95" height="4.92"/>
<rect x="419.55" y="308.61" width="4.95" height="4.92"/>
<rect x="429.45" y="308.61" width="4.95" height="4.92"/>
<rect x="439.35" y="308.61" width="4.95" height="4.92"/>
<rect x="414.60" y="313.53" width="4.95" height="4.92"/>
<rect x="424.50" y="313.53" width="4.95" height="4.92"/>
<rect x="434.40" y="313.53" width="4.95" height="4.92"/>
<rect x="419.55" y="318.45" width="4.95" height="4.92"/>
<rect x="429.45" y="318.45" width="4.95" height="4.92"/>
<rect x="439.35" y="318.45" width="4.95" height="4.92"/>
<rect x="414.60" y="323.37" width="4.95" height="4.92"/>
<rect x="424.50" y="323.37" width="4.95" height="4.92"/>
<rect x="434.40" y="323.37" width="4.95" height="4.92"/>
<rect x="419.55" y="328.29" width="4.95" height="4.92"/>
<rect x="429.45" y="328.29" width="4.95" height="4.92"/>
<rect x="439.35" y="328.29" width="4.95" height="4.92"/>
<rect x="414.60" y="333.20" width="4.95" height="4.92"/>
<rect x="424.50" y="333.20" width="4.95" height="4.92"/>
<rect x="434.40" y="333.20" width="4.95" height="4.92"/>
<rect x="419.55" y="338.12" width="4.95" height="4.92"/>
<rect x="429.45" y="338.12" width="4.95" height="4.92"/>
<rect x="439.35" y="338.12" width="4.95" height="4.92"/>
<rect x="414.60" y="343.04" width="4.95" height="4.92"/>
<rect x="424.50" y="343.04" width="4.95" height="4.92"/>
<rect x="434.40" y="343.04" width="4.95" height="4.92"/>
<rect x="419.55" y="347.96" width="4.95" height="4.92"/>
<rect x="429.45" y="347.96" width="4.95" height="4.92"/>
<rect x="439.35" y="347.96" width="4.95" height="4.92"/>
<rect x="414.60" y="352.88" width="4.95" height="4.92"/>
<rect x="424.50" y="352.88" width="4.95" height="4.92"/>
<rect x="434.40" y="352.88" width="4.95" height="4.92"/>
<rect x="419.55" y="357.79" width="4.95" height="4.92"/>
<rect x="429.45" y="357.79" width="4.95" height="4.92"/>
<rect x="439.35" y="357.79" width="4.95" height="4.92"/>
<rect x="414.60" y="362.71" width="4.95" height="4.92"/>
<rect x="424.50" y="362.71" width="4.95" height="4.92"/>
<rect x="434.40" y="362.71" width="4.95" height="4.92"/>
<rect x="419.55" y="367.63" width="4.95" height="4.92"/>
<rect x="429.45" y="367.63" width="4.95" height="4.92"/>
<rect x="439.35" y="367.63" width="4.95" height="4.92"/>
<rect x="414.60" y="372.55" width="4.95" height="4.92"/>
<rect x="424.50" y="372.55" width="4.95" height="4.92"/>
<rect x="434.40" y="372.55" width="4.95" height="4.92"/>
<rect x="419.55" y="377.47" width="4.95" height="4.92"/>
<rect x="429.45" y="377.47" width="4.95" height="4.92"/>
<rect x="439.35" y="377.47" width="4.95" height="4.92"/>
<rect x="414.60" y="382.38" width="4.95" height="4.92"/>
<rect x="424.50" y="382.38" width="4.95" height="4.92"/>
<rect x="434.40" y="382.38" width="4.95" height="4.92"/>
<rect x="419.55" y="387.30" width="4.95" height="4.92"/>
<rect x="429.45" y="387.30" width="4.95" height="4.92"/>
<rect x="439.35" y="387.30" width="4.95" height="4.92"/>
<rect x="414.60" y="392.22" width="4.95" height="4.92"/>
<rect x="424.50" y="392.22" width="4.95" height="4.92"/>
<rect x="434.40" y="392.22" width="4.95" height="4.92"/>
<rect x="419.55" y="397.14" width="4.95" height="4.92"/>
<rect x="429.45" y="397.14" width="4.95" height="4.92"/>
<rect x="439.35" y="397.14" width="4.95" height="4.92"/>
<rect x="414.60" y="402.06" width="4.95" height="4.92"/>
<rect x="424.50" y="402.06" width="4.95" height="4.92"/>
<rect x="434.40" y="402.06" width="4.95" height="4.92"/>
<rect x="419.55" y="406.97" width="4.95" height="4.92"/>
<rect x="429.45" y="406.97" width="4.95" height="4.92"/>
<rect x="439.35" y="406.97" width="4.95" height="4.92"/>
<rect x="414.60" y="411.89" width="4.95" height="4.92"/>
<rect x="424.50" y="411.89" width="4.95" height="4.92"/>
<rect x="434.40" y="411.89" width="4.95" height="4.92"/>
<rect x="419.55" y="416.81" width="4.95" height="4.92"/>
<rect x="429.45" y="416.81" width="4.95" height="4.92"/>
<rect x="439.35" y="416.81" width="4.95" height="4.92"/>
<rect x="414.60" y="421.73" width="4.95" height="4.92"/>
<rect x="424.50" y="421.73" width="4.95" height="4.92"/>
<rect x="434.40" y="421.73" width="4.95" height="4.92"/>
<rect x="419.55" y="426.65" width="4.95" height="4.92"/>
<rect x="429.45" y="426.65" width="4.95" height="4.92"/>
<rect x="439.35" y="426.65" width="4.95" height="4.92"/>
<rect x="414.60" y="431.56" width="4.95" height="4.92"/>
<rect x="424.50" y="431.56" width="4.95" height="4.92"/>
<rect x="434.40" y="431.56" width="4.95" height="4.92"/>
<rect x="419.55" y="436.48" width="4.95" height="4.92"/>
<rect x="429.45" y="436.48" width="4.95" height="4.92"/>
<rect x="439.35" y="436.48" width="4.95" height="4.92"/>
<rect x="414.60" y="441.40" width="4.95" height="4.92"/>
<rect x="424.50" y="441.40" width="4.95" height="4.92"/>
<rect x="434.40" y="441.40" width="4.95" height="4.92"/>
<rect x="419.55" y="446.32" width="4.95" height="4.92"/>
<rect x="429.45" y="446.32" width="4.95" height="4.92"/>
<rect x="439.35" y="446.32" width="4.95" height="4.92"/>
<rect x="414.60" y="451.24" width="4.95" height="4.92"/>
<rect x="424.50" y="451.24" width="4.95" height="4.92"/>
<rect x="434.40" y="451.24" width="4.95" height="4.92"/>
</g>
<rect x="422.53" y="255.60" width="14.76" height="191.50" fill="none" stroke="#000" stroke-width="1.2"/>
<rect x="437.29" y="403.40" width="14.76" height="43.70" fill="#000" stroke="#000" stroke-width="1"/>
<rect x="465.10" y="436.10" width="14.76" height="11.00" fill="#fff" stroke="#000" stroke-width="1.2"/>
<clipPath id="c9"><rect x="479.86" y="298.50" width="14.76" height="148.60"/></clipPath>
<rect x="479.86" y="298.50" width="14.76" height="148.60" fill="#fff"/>
<g clip-path="url(#c9)" stroke="#000" stroke-width="2.30">
<line x1="477.86" y1="289.70" x2="496.62" y2="272.82"/>
<line x1="477.86" y1="299.30" x2="496.62" y2="282.42"/>
<line x1="477.86" y1="308.90" x2="496.62" y2="292.02"/>
<line x1="477.86" y1="318.50" x2="496.62" y2="301.62"/>
<line x1="477.86" y1="328.10" x2="496.62" y2="311.22"/>
<line x1="477.86" y1="337.70" x2="496.62" y2="320.82"/>
<line x1="477.86" y1="347.30" x2="496.62" y2="330.42"/>
<line x1="477.86" y1="356.90" x2="496.62" y2="340.02"/>
<line x1="477.86" y1="366.50" x2="496.62" y2="349.62"/>
<line x1="477.86" y1="376.10" x2="496.62" y2="359.22"/>
<line x1="477.86" y1="385.70" x2="496.62" y2="368.82"/>
<line x1="477.86" y1="395.30" x2="496.62" y2="378.42"/>
<line x1="477.86" y1="404.90" x2="496.62" y2="388.02"/>
<line x1="477.86" y1="414.50" x2="496.62" y2="397.62"/>
<line x1="477.86" y1="424.10" x2="496.62" y2="407.22"/>
<line x1="477.86" y1="433.70" x2="496.62" y2="416.82"/>
<line x1="477.86" y1="443.30" x2="496.62" y2="426.42"/>
<line x1="477.86" y1="452.90" x2="496.62" y2="436.02"/>
<line x1="477.86" y1="462.50" x2="496.62" y2="445.62"/>
</g>
<rect x="479.86" y="298.50" width="14.76" height="148.60" fill="none" stroke="#000" stroke-width="1.2"/>
<clipPath id="c10"><rect x="494.62" y="430.00" width="14.76" height="17.10"/></clipPath>
<rect x="494.62" y="430.00" width="14.76" height="17.10" fill="#fff"/>
<g clip-path="url(#c10)" fill="#000">
<rect x="485.10" y="421.73" width="4.95" height="4.92"/>
<rect x="495.00" y="421.73" width="4.95" height="4.92"/>
<rect x="504.90" y="421.73" width="4.95" height="4.92"/>
<rect x="490.05" y="426.65" width="4.95" height="4.92"/>
<rect x="499.95" y="426.65" width="4.95" height="4.92"/>
<rect x="509.85" y="426.65" width="4.95" height="4.92"/>
<rect x="485.10" y="431.56" width="4.95" height="4.92"/>
<rect x="495.00" y="431.56" width="4.95" height="4.92"/>
<rect x="504.90" y="431.56" width="4.95" height="4.92"/>
<rect x="490.05" y="436.48" width="4.95" height="4.92"/>
<rect x="499.95" y="436.48" width="4.95" height="4.92"/>
<rect x="509.85" y="436.48" width="4.95" height="4.92"/>
<rect x="485.10" y="441.40" width="4.95" height="4.92"/>
<rect x="495.00" y="441.40" width="4.95" height="4.92"/>
<rect x="504.90" y="441.40" width="4.95" height="4.92"/>
<rect x="490.05" y="446.32" width="4.95" height="4.92"/>
<rect x="499.95" y="446.32" width="4.95" height="4.92"/>
<rect x="509.85" y="446.32" width="4.95" height="4.92"/>
<rect x="485.10" y="451.24" width="4.95" height="4.92"/>
<rect x="495.00" y="451.24" width="4.95" height="4.92"/>
<rect x="504.90" y="451.24" width="4.95" height="4.92"/>
</g>
<rect x="494.62" y="430.00" width="14.76" height="17.10" fill="none" stroke="#000" stroke-width="1.2"/>
<rect x="509.38" y="410.20" width="14.76" height="36.90" fill="#000" stroke="#000" stroke-width="1"/>
<line x1="111.73" y1="416.80" x2="111.73" y2="428.60" stroke="#000" stroke-width="1.65"/>
<rect x="109.93" y="415.80" width="3.6" height="2.0" rx="0.7" fill="#000"/>
<rect x="109.93" y="427.50" width="3.6" height="2.0" rx="0.7" fill="#000"/>
<line x1="126.49" y1="368.50" x2="126.49" y2="401.50" stroke="#000" stroke-width="1.65"/>
<rect x="124.69" y="367.50" width="3.6" height="2.0" rx="0.7" fill="#000"/>
<rect x="124.69" y="400.40" width="3.6" height="2.0" rx="0.7" fill="#000"/>
<line x1="141.25" y1="201.40" x2="141.25" y2="255.50" stroke="#000" stroke-width="2.0"/>
<rect x="139.45" y="200.40" width="3.6" height="2.0" rx="0.7" fill="#000"/>
<rect x="139.45" y="254.40" width="3.6" height="2.0" rx="0.7" fill="#000"/>
<line x1="156.01" y1="405.80" x2="156.01" y2="413.90" stroke="#000" stroke-width="2.0"/>
<rect x="153.61" y="404.80" width="4.8" height="2.0" rx="0.7" fill="#000"/>
<line x1="183.82" y1="228.80" x2="183.82" y2="240.70" stroke="#000" stroke-width="1.65"/>
<rect x="182.02" y="227.80" width="3.6" height="2.0" rx="0.7" fill="#000"/>
<rect x="182.02" y="239.60" width="3.6" height="2.0" rx="0.7" fill="#000"/>
<line x1="198.58" y1="424.30" x2="198.58" y2="435.00" stroke="#000" stroke-width="1.65"/>
<rect x="196.78" y="423.30" width="3.6" height="2.0" rx="0.7" fill="#000"/>
<rect x="196.78" y="433.90" width="3.6" height="2.0" rx="0.7" fill="#000"/>
<line x1="213.34" y1="350.40" x2="213.34" y2="353.20" stroke="#000" stroke-width="1.65"/>
<rect x="211.54" y="349.40" width="3.6" height="2.0" rx="0.7" fill="#000"/>
<rect x="211.54" y="352.10" width="3.6" height="2.0" rx="0.7" fill="#000"/>
<line x1="228.10" y1="398.30" x2="228.10" y2="409.30" stroke="#000" stroke-width="2.0"/>
<rect x="225.70" y="397.30" width="4.8" height="2.0" rx="0.7" fill="#000"/>
<line x1="256.21" y1="434.50" x2="256.21" y2="440.00" stroke="#000" stroke-width="1.65"/>
<rect x="254.41" y="433.50" width="3.6" height="2.0" rx="0.7" fill="#000"/>
<rect x="254.41" y="438.90" width="3.6" height="2.0" rx="0.7" fill="#000"/>
<line x1="300.49" y1="397.50" x2="300.49" y2="402.30" stroke="#000" stroke-width="2.0"/>
<rect x="298.09" y="396.50" width="4.8" height="2.0" rx="0.7" fill="#000"/>
<line x1="328.30" y1="335.60" x2="328.30" y2="357.00" stroke="#000" stroke-width="1.65"/>
<rect x="326.50" y="334.60" width="3.6" height="2.0" rx="0.7" fill="#000"/>
<rect x="326.50" y="355.90" width="3.6" height="2.0" rx="0.7" fill="#000"/>
<line x1="343.06" y1="397.00" x2="343.06" y2="409.00" stroke="#000" stroke-width="1.65"/>
<rect x="341.26" y="396.00" width="3.6" height="2.0" rx="0.7" fill="#000"/>
<rect x="341.26" y="407.90" width="3.6" height="2.0" rx="0.7" fill="#000"/>
<line x1="357.82" y1="57.90" x2="357.82" y2="94.00" stroke="#000" stroke-width="1.65"/>
<rect x="356.02" y="56.90" width="3.6" height="2.0" rx="0.7" fill="#000"/>
<rect x="356.02" y="92.90" width="3.6" height="2.0" rx="0.7" fill="#000"/>
<line x1="372.58" y1="399.20" x2="372.58" y2="409.80" stroke="#000" stroke-width="2.0"/>
<rect x="370.18" y="398.20" width="4.8" height="2.0" rx="0.7" fill="#000"/>
<line x1="400.39" y1="335.60" x2="400.39" y2="357.00" stroke="#000" stroke-width="1.65"/>
<rect x="397.99" y="334.60" width="4.8" height="2.0" rx="0.7" fill="#000"/>
<rect x="397.99" y="355.90" width="4.8" height="2.0" rx="0.7" fill="#000"/>
<line x1="415.15" y1="409.80" x2="415.15" y2="421.00" stroke="#000" stroke-width="1.65"/>
<rect x="413.35" y="408.80" width="3.6" height="2.0" rx="0.7" fill="#000"/>
<rect x="413.35" y="419.90" width="3.6" height="2.0" rx="0.7" fill="#000"/>
<line x1="429.91" y1="235.60" x2="429.91" y2="275.40" stroke="#000" stroke-width="2.0"/>
<rect x="428.11" y="234.60" width="3.6" height="2.0" rx="0.7" fill="#000"/>
<rect x="428.11" y="274.30" width="3.6" height="2.0" rx="0.7" fill="#000"/>
<line x1="444.67" y1="399.20" x2="444.67" y2="403.40" stroke="#000" stroke-width="2.0"/>
<rect x="442.27" y="398.20" width="4.8" height="2.0" rx="0.7" fill="#000"/>
<line x1="472.48" y1="435.20" x2="472.48" y2="437.20" stroke="#000" stroke-width="1.65"/>
<rect x="470.68" y="434.20" width="3.6" height="2.0" rx="0.7" fill="#000"/>
<rect x="470.68" y="436.10" width="3.6" height="2.0" rx="0.7" fill="#000"/>
<line x1="487.24" y1="288.60" x2="487.24" y2="309.70" stroke="#000" stroke-width="1.65"/>
<rect x="485.44" y="287.60" width="3.6" height="2.0" rx="0.7" fill="#000"/>
<rect x="485.44" y="308.60" width="3.6" height="2.0" rx="0.7" fill="#000"/>
<line x1="502.00" y1="421.20" x2="502.00" y2="438.60" stroke="#000" stroke-width="1.65"/>
<rect x="500.20" y="420.20" width="3.6" height="2.0" rx="0.7" fill="#000"/>
<rect x="500.20" y="437.50" width="3.6" height="2.0" rx="0.7" fill="#000"/>
<line x1="516.76" y1="400.20" x2="516.76" y2="410.20" stroke="#000" stroke-width="2.0"/>
<rect x="514.36" y="399.20" width="4.8" height="2.0" rx="0.7" fill="#000"/>
<rect x="80" y="0" width="469" height="0.9" fill="#cfcfcf"/>
<rect x="548.1" y="0" width="0.9" height="448.1" fill="#dcdcdc"/>
<path d="M80.8 447.1 V1.55 H547.4 V447.1" fill="none" stroke="#222" stroke-width="1.5"/>
<line x1="69" y1="447.1" x2="548.2" y2="447.1" stroke="#111" stroke-width="2.2"/>
<line x1="69" y1="341.25" x2="80.8" y2="341.25" stroke="#111" stroke-width="1.7"/>
<line x1="69" y1="235.40" x2="80.8" y2="235.40" stroke="#111" stroke-width="1.7"/>
<line x1="69" y1="129.55" x2="80.8" y2="129.55" stroke="#111" stroke-width="1.7"/>
<line x1="69" y1="23.70" x2="80.8" y2="23.70" stroke="#111" stroke-width="1.7"/>
<text x="68.2" y="456.10" text-anchor="end" class="ty">0.00</text>
<text x="68.2" y="350.25" text-anchor="end" class="ty">10.00</text>
<text x="68.2" y="244.40" text-anchor="end" class="ty">20.00</text>
<text x="68.2" y="138.55" text-anchor="end" class="ty">30.00</text>
<text x="68.2" y="32.70" text-anchor="end" class="ty">40.00</text>
<line x1="133.87" y1="447.1" x2="133.87" y2="458.5" stroke="#111" stroke-width="1.5"/>
<text x="133.57" y="476.8" text-anchor="middle" class="t18">Control</text>
<line x1="205.96" y1="447.1" x2="205.96" y2="477.8" stroke="#111" stroke-width="1.5"/>
<text x="205.66" y="496.3" text-anchor="middle" class="t18">Nch</text>
<line x1="278.35" y1="447.1" x2="278.35" y2="458.5" stroke="#111" stroke-width="1.5"/>
<text x="278.05" y="476.8" text-anchor="middle" class="t18">Nch+PS2</text>
<line x1="350.44" y1="447.1" x2="350.44" y2="477.8" stroke="#111" stroke-width="1.5"/>
<text x="350.14" y="496.3" text-anchor="middle" class="t18">Nz</text>
<line x1="422.53" y1="447.1" x2="422.53" y2="458.5" stroke="#111" stroke-width="1.5"/>
<text x="422.23" y="476.8" text-anchor="middle" class="t18">Nz+PS2</text>
<line x1="494.62" y1="447.1" x2="494.62" y2="477.8" stroke="#111" stroke-width="1.5"/>
<text x="494.32" y="496.3" text-anchor="middle" class="t18">PS2</text>
<text transform="translate(111.40 409.70) scale(0.92 1)" text-anchor="middle" class="t17">b</text>
<text transform="translate(126.30 361.20) scale(0.92 1)" text-anchor="middle" class="t17">e</text>
<text transform="translate(142.00 197.30) scale(0.92 1)" text-anchor="middle" class="t17">e</text>
<text transform="translate(156.40 400.50) scale(0.92 1)" text-anchor="middle" class="t17">a</text>
<text transform="translate(185.70 219.20) scale(0.92 1)" text-anchor="middle" class="t17">d</text>
<text transform="translate(200.00 418.00) scale(0.92 1)" text-anchor="middle" class="t17">b</text>
<text transform="translate(214.60 344.70) scale(0.92 1)" text-anchor="middle" class="t17">c</text>
<text transform="translate(231.50 392.40) scale(0.92 1)" text-anchor="middle" class="t17">b</text>
<text transform="translate(256.30 428.20) scale(0.92 1)" text-anchor="middle" class="t17">a</text>
<text transform="translate(272.30 441.60) scale(0.92 1)" text-anchor="middle" class="t17">a</text>
<text transform="translate(284.70 443.00) scale(0.92 1)" text-anchor="middle" class="t17">a</text>
<text transform="translate(300.40 391.50) scale(0.92 1)" text-anchor="middle" class="t17">c</text>
<text transform="translate(328.60 329.20) scale(0.92 1)" text-anchor="middle" class="t17">c</text>
<text transform="translate(343.00 393.40) scale(0.92 1)" text-anchor="middle" class="t17">d</text>
<text transform="translate(358.60 54.30) scale(1.0 1)" text-anchor="middle" class="t17">f</text>
<text transform="translate(374.70 392.80) scale(0.92 1)" text-anchor="middle" class="t17">b</text>
<text transform="translate(399.50 329.20) scale(0.92 1)" text-anchor="middle" class="t17">c</text>
<text transform="translate(416.20 402.60) scale(0.92 1)" text-anchor="middle" class="t17">c</text>
<text transform="translate(431.00 227.70) scale(0.92 1)" text-anchor="middle" class="t17">d</text>
<text transform="translate(446.30 392.80) scale(0.92 1)" text-anchor="middle" class="t17">b</text>
<text transform="translate(471.80 427.90) scale(0.92 1)" text-anchor="middle" class="t17">a</text>
<text transform="translate(487.40 281.10) scale(1.0 1)" text-anchor="middle" class="t17">f</text>
<text transform="translate(502.30 416.00) scale(0.92 1)" text-anchor="middle" class="t17">b</text>
<text transform="translate(517.00 394.90) scale(0.92 1)" text-anchor="middle" class="t17">b</text>
<rect x="112.95" y="13.80" width="14.50" height="14.20" fill="#fff" stroke="#000" stroke-width="1.3"/>
<text x="130.2" y="28.7" class="t16">Alcohol</text>
<clipPath id="lk"><rect x="220.60" y="13.15" width="15.80" height="15.50"/></clipPath>
<rect x="221.25" y="13.80" width="14.50" height="14.20" fill="#fff" stroke="#000" stroke-width="1.3"/>
<g clip-path="url(#lk)" stroke="#000">
<line x1="216.50" y1="32.90" x2="240.50" y2="8.90" stroke-width="2.3"/>
<line x1="210.10" y1="26.50" x2="234.10" y2="2.50" stroke-width="4.2"/>
<line x1="222.90" y1="39.30" x2="246.90" y2="15.30" stroke-width="4.2"/>
</g>
<rect x="221.25" y="13.80" width="14.50" height="14.20" fill="none" stroke="#000" stroke-width="1.4"/>
<text x="240.0" y="28.7" class="t16">Ketone</text>
<clipPath id="c11"><rect x="338.60" y="13.15" width="15.80" height="15.50"/></clipPath>
<rect x="339.25" y="13.80" width="14.50" height="14.20" fill="#fff" stroke="#000" stroke-width="1.3"/>
<g clip-path="url(#c11)" fill="#000">
<rect x="336.30" y="8.20" width="5.00" height="5.00"/>
<rect x="346.20" y="8.20" width="5.10" height="5.00"/>
<rect x="341.30" y="13.20" width="4.90" height="5.00"/>
<rect x="351.30" y="13.20" width="5.00" height="5.00"/>
<rect x="336.30" y="18.20" width="5.00" height="4.90"/>
<rect x="346.20" y="18.20" width="5.10" height="4.90"/>
<rect x="341.30" y="23.10" width="4.90" height="5.10"/>
<rect x="351.30" y="23.10" width="5.00" height="5.10"/>
<rect x="336.30" y="28.20" width="5.00" height="4.80"/>
<rect x="346.20" y="28.20" width="5.10" height="4.80"/>
</g>
<rect x="339.25" y="13.80" width="14.50" height="14.20" fill="none" stroke="#000" stroke-width="1.3"/>
<text x="356.3" y="28.7" class="t16">Acid</text>
<rect x="432.05" y="13.80" width="14.50" height="14.20" fill="#000" stroke="#000" stroke-width="1.3"/>
<text x="450.9" y="28.7" class="t16">Phenols</text>
<text x="314.4" y="528.8" text-anchor="middle" class="ttl" style="letter-spacing:0.42px">Treatments</text>
<text transform="translate(16 224.4) rotate(-90)" text-anchor="middle" class="ttl">Peak Area Millions</text>
</svg>
</body></html>
